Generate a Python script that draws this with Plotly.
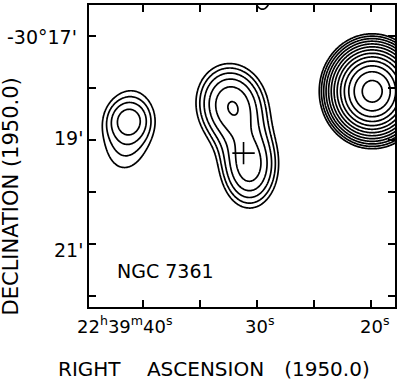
import numpy as np
import plotly.graph_objects as go

# Gaussian source components: RA in seconds after 22h39m, Dec in arcmin south of -30 deg
comp_ra = [19.90, 41.25, 41.34, 32.24, 30.66, 31.45, 29.53]
comp_dec = [18.07, 18.628, 18.839, 18.33, 19.51, 18.973, 16.157]
comp_amp = [74.5, 2.0, 1.8, 5.4, 4.7, 0.9, 1.3]
comp_sig_major = [22.6, 14.8, 38.8, 26.0, 27.4, 27.4, 27.6]   # arcsec
comp_sig_minor = [20.5, 14.8, 22.8, 21.7, 18.3, 21.7, 13.6]   # arcsec
comp_pa = [0.0, 0.0, -8.0, 10.0, 0.0, 0.0, 0.0]               # deg, E of N

# contour levels: lowest level and geometric ratio
contour_lowest = 1.0
contour_ratio = 2 ** 0.5
n_levels = 13

# optical position marker
cross_ra = [31.19]
cross_dec = [19.26]

# axes
x_ticks = [20, 25, 30, 35, 40]
y_ticks = [17, 18, 19, 20, 21, 22]
x_range = [44.75, 17.90]
y_range = [22.22, 16.41]

# ---- field --------------------------------------------------------------
ra = np.linspace(17.0, 45.5, 420)
dec = np.linspace(15.8, 22.6, 420)
RA, DEC = np.meshgrid(ra, dec)
field = np.zeros_like(RA)
for r0, d0, a, smaj, smin, pa in zip(comp_ra, comp_dec, comp_amp,
                                     comp_sig_major, comp_sig_minor, comp_pa):
    cosd = np.cos(np.radians(30 + d0 / 60))
    e = (RA - r0) * 15 * cosd
    n = -(DEC - d0) * 60
    p = np.radians(pa)
    u = e * np.sin(p) + n * np.cos(p)
    v = e * np.cos(p) - n * np.sin(p)
    field += a * np.exp(-u ** 2 / (2 * smaj ** 2) - v ** 2 / (2 * smin ** 2))

z = np.log(np.maximum(field, 1e-9) / contour_lowest) / np.log(contour_ratio)

fig = go.Figure()
fig.add_trace(go.Contour(
    x=ra, y=dec, z=z,
    contours=dict(start=0, end=n_levels - 1, size=1, coloring='lines'),
    line=dict(width=1.7, smoothing=1.0),
    colorscale=[[0, 'black'], [1, 'black']],
    showscale=False, hoverinfo='skip'))
fig.add_trace(go.Scatter(
    x=cross_ra, y=cross_dec, mode='markers',
    marker=dict(symbol='cross-thin', size=16, line=dict(width=1.6, color='black')),
    hoverinfo='skip', showlegend=False))

axis_common = dict(ticks='inside', ticklen=7, tickwidth=1.5, tickcolor='black',
                   showline=True, linecolor='black', linewidth=1.7, mirror='ticks',
                   showgrid=False, zeroline=False, showticklabels=False)
fig.update_xaxes(range=x_range, tickvals=x_ticks, **axis_common)
fig.update_yaxes(range=y_range, tickvals=y_ticks, **axis_common)

F = 'DejaVu Sans'
ann = []
# x tick labels
for val, txt, xs in [(40, '22<sup>h</sup>39<sup>m</sup>40<sup>s</sup>', -18),
                     (30, '30<sup>s</sup>', 2), (20, '20<sup>s</sup>', 3)]:
    ann.append(dict(x=val, xref='x', y=0, yref='paper', text=txt, showarrow=False,
                    xanchor='center', yanchor='top', xshift=xs, yshift=-5, borderpad=0,
                    font=dict(family=F, size=18, color='black')))
# y tick labels
for val, txt, xs, ys in [(17, "-30°17'", -11, -1.5), (19, "19'", -5, 1.5), (21, "21'", -5, -6.5)]:
    ann.append(dict(x=0, xref='paper', y=val, yref='y', text=txt, showarrow=False,
                    xanchor='right', yanchor='middle', xshift=xs, yshift=ys, borderpad=0,
                    font=dict(family=F, size=19, color='black')))
# titles
ann.append(dict(x=0.407, xref='paper', y=-0.2056, yref='paper',
                text='RIGHT\u2002\u2002 ASCENSION\u2002\u2002(1950.0)', showarrow=False,
                xanchor='center', yanchor='middle',
                font=dict(family=F, size=20, color='black')))
ann.append(dict(x=-0.254, xref='paper', y=0.367, yref='paper',
                text='DECLINATION (1950.0)', showarrow=False, textangle=-90,
                xanchor='center', yanchor='middle',
                font=dict(family=F, size=21, color='black')))
ann.append(dict(x=38.01, xref='x', y=21.52, yref='y', text='NGC 7361', showarrow=False,
                xanchor='center', yanchor='middle',
                font=dict(family=F, size=19, color='black')))

fig.update_layout(width=400, height=381, autosize=False,
                  margin=dict(l=89, r=4, t=3, b=74),
                  paper_bgcolor='white', plot_bgcolor='white',
                  showlegend=False, annotations=ann)
fig.write_html('out.html', config={'displayModeBar': False},
               post_script="document.body.style.margin='0px';")
